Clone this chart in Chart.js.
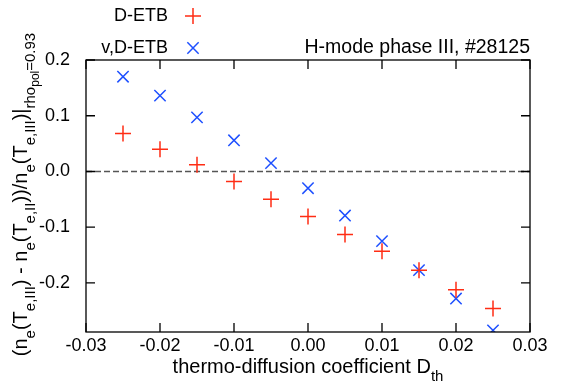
<!DOCTYPE html>
<html>
<head>
<meta charset="utf-8">
<script src="https://cdn.jsdelivr.net/npm/chart.js@4.4.1/dist/chart.umd.min.js"></script>
<style>
  html, body { margin: 0; padding: 0; background: #fff; }
</style>
</head>
<body>
<canvas id="chart" width="569" height="383"></canvas>
<script>
// values
var dthValues = [-0.025, -0.02, -0.015, -0.01, -0.005, 0.0, 0.005, 0.01, 0.015, 0.02, 0.025]
var detbValues = [0.068, 0.040, 0.012, -0.018, -0.050, -0.081, -0.113, -0.143, -0.177, -0.212, -0.246]
var vdetbValues = [0.170, 0.136, 0.097, 0.056, 0.015, -0.030, -0.079, -0.125, -0.177, -0.228, -0.285]
var seriesLabels = ['D-ETB', 'v,D-ETB']
var xTickValues = [-0.03, -0.02, -0.01, 0.0, 0.01, 0.02, 0.03]
var yTickValues = [-0.2, -0.1, 0.0, 0.1, 0.2]
var zeroLineX = [-0.03, 0.03]
var zeroLineY = [0, 0]
var titleText = 'H-mode phase III, #28125'

var FONT = '"Liberation Sans", Arial, sans-serif'
var redColour = 'rgb(255, 45, 20)'
var blueColour = 'rgb(30, 80, 255)'

function toPoints(xs, ys) {
  var pts = []
  for (var i = 0; i < xs.length; i++) {
    pts.push({ x: xs[i], y: ys[i] })
  }
  return pts
}

// text with gnuplot-like sub / sub-sub scripts
var yTitleParts = [
  ['(n', 0], ['e', 1], ['(T', 0], ['e,III', 1], [') - n', 0], ['e', 1], ['(T', 0], ['e,II', 1],
  ['))/n', 0], ['e', 1], ['(T', 0], ['e,III', 1], [')|', 0], ['rho', 1], ['pol', 2], ['=0.93', 1]
]
var xTitleParts = [['thermo-diffusion coefficient D', 0], ['th', 1]]

function partFont(level) {
  var sizes = [20, 15, 12]
  return sizes[level] + 'px ' + FONT
}
function partShift(level) {
  return [0, 8, 12][level]
}

function drawParts(ctx, parts, x, y) {
  // x = center, y = baseline
  var total = 0
  for (let p of parts) {
    ctx.font = partFont(p[1])
    total += ctx.measureText(p[0]).width
  }
  var cx = x - total / 2
  ctx.textAlign = 'left'
  ctx.textBaseline = 'alphabetic'
  for (let p of parts) {
    ctx.font = partFont(p[1])
    ctx.fillText(p[0], cx, y + partShift(p[1]))
    cx += ctx.measureText(p[0]).width
  }
}

var framePlugin = {
  id: 'frame',
  afterDraw: function(chart) {
    var ctx = chart.ctx
    var a = chart.chartArea
    var xs = chart.scales.x
    var ys = chart.scales.y
    var tick = 9
    ctx.save()
    ctx.strokeStyle = '#000'
    ctx.lineWidth = 1.3
    ctx.strokeRect(a.left, a.top, a.right - a.left, a.bottom - a.top)
    ctx.beginPath()
    for (let v of xTickValues) {
      var px = xs.getPixelForValue(v)
      ctx.moveTo(px, a.bottom); ctx.lineTo(px, a.bottom - tick)
      ctx.moveTo(px, a.top); ctx.lineTo(px, a.top + tick)
    }
    for (let v of yTickValues) {
      var py = ys.getPixelForValue(v)
      ctx.moveTo(a.left, py); ctx.lineTo(a.left + tick, py)
      ctx.moveTo(a.right, py); ctx.lineTo(a.right - tick, py)
    }
    ctx.stroke()

    ctx.fillStyle = '#000'
    // axis titles
    drawParts(ctx, xTitleParts, (a.left + a.right) / 2, 373)
    ctx.save()
    ctx.translate(27, 194.5)
    ctx.rotate(-Math.PI / 2)
    drawParts(ctx, yTitleParts, 0, 0)
    ctx.restore()

    // title
    ctx.font = '19.5px ' + FONT
    ctx.textAlign = 'right'
    ctx.textBaseline = 'middle'
    ctx.fillText(titleText, a.right, 48)

    // key
    ctx.font = '18px ' + FONT
    var keyY = [16, 48]
    var ds = chart.data.datasets
    for (var i = 0; i < 2; i++) {
      ctx.fillStyle = '#000'
      ctx.fillText(seriesLabels[i], 168, keyY[i])
      ctx.strokeStyle = ds[i].borderColor
      ctx.lineWidth = ds[i].borderWidth
      Chart.helpers.drawPoint(ctx, { pointStyle: ds[i].pointStyle, radius: ds[i].pointRadius, rotation: 0, borderWidth: ds[i].borderWidth }, 193, keyY[i])
    }
    ctx.restore()
  }
}

var ctx = document.getElementById('chart').getContext('2d')
var chart = new Chart(ctx, {
  type: 'scatter',
  data: {
    datasets: [
      {
        label: seriesLabels[0],
        data: toPoints(dthValues, detbValues),
        pointStyle: 'cross',
        pointRadius: 8,
        borderColor: redColour,
        backgroundColor: redColour,
        borderWidth: 1.5
      },
      {
        label: seriesLabels[1],
        data: toPoints(dthValues, vdetbValues),
        pointStyle: 'crossRot',
        pointRadius: 8,
        borderColor: blueColour,
        backgroundColor: blueColour,
        borderWidth: 1.5
      },
      {
        label: 'zero',
        data: toPoints(zeroLineX, zeroLineY),
        showLine: true,
        pointRadius: 0,
        borderColor: '#555',
        borderWidth: 1.5,
        borderDash: [6, 3]
      }
    ]
  },
  options: {
    responsive: false,
    animation: false,
    layout: {
      padding: { left: 0, right: 39, top: 60, bottom: 0 }
    },
    plugins: {
      legend: { display: false },
      tooltip: { enabled: false }
    },
    scales: {
      x: {
        type: 'linear',
        min: -0.03,
        max: 0.03,
        afterFit: function(scale) { scale.height = 51 },
        afterBuildTicks: function(scale) {
          scale.ticks = xTickValues.map(function(v) { return { value: v } })
        },
        grid: { display: false, drawTicks: false },
        border: { display: false },
        ticks: {
          padding: 3,
          color: '#000',
          font: { family: FONT, size: 18 },
          maxRotation: 0,
          callback: function(value) { return value.toFixed(2) }
        }
      },
      y: {
        type: 'linear',
        min: -0.288,
        max: 0.2,
        afterFit: function(scale) { scale.width = 86 },
        afterBuildTicks: function(scale) {
          scale.ticks = yTickValues.map(function(v) { return { value: v } })
        },
        grid: { display: false, drawTicks: false },
        border: { display: false },
        ticks: {
          padding: 16,
          color: '#000',
          font: { family: FONT, size: 18 },
          callback: function(value) { return value.toFixed(1) }
        }
      }
    }
  },
  plugins: [framePlugin]
})
</script>
</body>
</html>
